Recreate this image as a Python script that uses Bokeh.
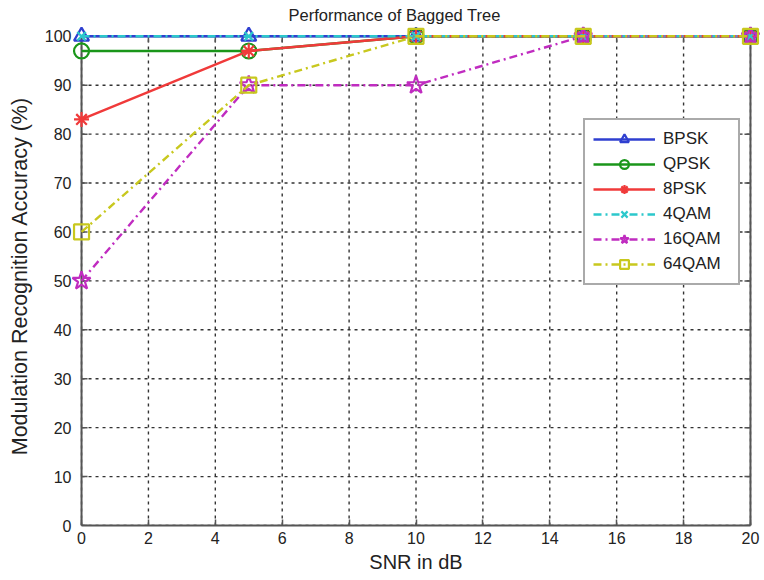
import math
from bokeh.plotting import figure
from bokeh.models import Legend, LegendItem, FixedTicker, Range1d
from bokeh.embed import file_html
from bokeh.resources import INLINE

snr = [0, 5, 10, 15, 20]
bpsk = [100, 100, 100, 100, 100]
qpsk = [97, 97, 100, 100, 100]
psk8 = [83, 97, 100, 100, 100]
qam4 = [100, 100, 100, 100, 100]
qam16 = [50, 90, 90, 100, 100]
qam64 = [60, 90, 100, 100, 100]

x_ticks = list(range(0, 21, 2))
y_ticks = list(range(0, 101, 10))

FONT = "Liberation Sans"
AXC = "#555555"
TXT = "#222222"

x0, x1 = x_ticks[0], x_ticks[-1]
y0, y1 = y_ticks[0], y_ticks[-1]

p = figure(width=764, height=580, output_backend="svg", toolbar_location=None,
           x_range=Range1d(x0 - 0.3, x1 + 0.3), y_range=Range1d(y0, y1 + 2),
           min_border_left=71, min_border_right=4, min_border_top=26, min_border_bottom=55,
           title="Performance of Bagged Tree")
p.title.align = "left"
p.title.text_font = FONT
p.title.text_font_size = "16.5px"
p.title.text_font_style = "normal"
p.title.text_color = TXT
p.title.offset = 217
p.title.standoff = 5

p.outline_line_color = None
p.background_fill_color = "white"
p.border_fill_color = "white"
p.grid.visible = False

p.xaxis.ticker = FixedTicker(ticks=x_ticks)
p.yaxis.ticker = FixedTicker(ticks=y_ticks)
p.xaxis.bounds = (x0, x1)
p.yaxis.bounds = (y0, y1)
for ax in (p.xaxis[0], p.yaxis[0]):
    ax.major_tick_in = 6
    ax.major_tick_out = 0
    ax.minor_tick_line_color = None
    ax.axis_line_color = AXC
    ax.axis_line_width = 2
    ax.major_tick_line_color = AXC
    ax.major_tick_line_width = 1.5
    ax.major_label_text_font = FONT
    ax.major_label_text_font_size = "16px"
    ax.major_label_text_color = TXT
    ax.axis_label_text_font = FONT
    ax.axis_label_text_font_size = "20px"
    ax.axis_label_text_font_style = "normal"
    ax.axis_label_text_color = TXT
# y axis sits at the frame edge: only its labels are shown; the box line is drawn below
p.yaxis.axis_line_color = None
p.yaxis.major_tick_line_color = None
p.yaxis.axis_label_text_font_size = "21.5px"
p.xaxis.axis_label = "SNR in dB"
p.yaxis.axis_label = "Modulation Recognition Accuracy (%)"
p.xaxis.major_label_standoff = 6
p.yaxis.major_label_standoff = 0
p.xaxis.axis_label_standoff = 4
p.yaxis.axis_label_standoff = 10

# grid (dotted), bounded to the axes box
GRID_DASH = "3 4"
p.segment(x0=x_ticks, y0=[y0] * len(x_ticks), x1=x_ticks, y1=[y1] * len(x_ticks),
          line_color="#333333", line_width=1.4, line_dash=GRID_DASH)
p.segment(x0=[x0] * len(y_ticks), y0=y_ticks, x1=[x1] * len(y_ticks), y1=y_ticks,
          line_color="#333333", line_width=1.4, line_dash=GRID_DASH)

# left, top and right box edges with inward ticks
p.line([x0, x0], [y0, y1], line_color=AXC, line_width=2)
p.line([x0, x1], [y1, y1], line_color=AXC, line_width=2)
p.line([x1, x1], [y0, y1], line_color=AXC, line_width=2)
p.ray(x=[x0] * len(y_ticks), y=y_ticks, length=6, length_units="screen",
      angle=0, line_color=AXC, line_width=1.5)
p.ray(x=x_ticks, y=[y1] * len(x_ticks), length=6, length_units="screen",
      angle=-math.pi / 2, line_color=AXC, line_width=1.5)
p.ray(x=[x1] * len(y_ticks), y=y_ticks, length=6, length_units="screen",
      angle=math.pi, line_color=AXC, line_width=1.5)

DD = "8 4 2 4"
series = [
    ("BPSK", bpsk, "#2f3fd0", "solid", "triangle", 15),
    ("QPSK", qpsk, "#1a961a", "solid", "circle", 15),
    ("8PSK", psk8, "#f03a3a", "solid", "asterisk", 15),
    ("4QAM", qam4, "#2cc8cc", DD, "x", 12),
    ("16QAM", qam16, "#c02cc0", DD, "star", 19),
    ("64QAM", qam64, "#c8c81e", DD, "square", 15),
]

items = []
for name, ys, color, dash, marker, size in series:
    r1 = p.line(snr, ys, line_color=color, line_width=2.4, line_dash=dash)
    r2 = p.scatter(snr, ys, marker=marker, size=size, line_color=color,
                   fill_color=None, line_width=2.2)
    items.append(LegendItem(label=name, renderers=[r1, r2]))

legend = Legend(items=items, location=(512, 240))
legend.margin = 0
legend.label_text_font = FONT
legend.label_text_font_size = "17px"
legend.label_text_color = TXT
legend.glyph_width = 62
legend.glyph_height = 22
legend.label_height = 22
legend.label_width = 67
legend.spacing = 3
legend.padding = 8
legend.label_standoff = 8
legend.border_line_color = AXC
legend.border_line_width = 2
legend.background_fill_color = "white"
legend.background_fill_alpha = 1
p.add_layout(legend, "center")

open("out.html", "w").write(file_html(p, INLINE))
